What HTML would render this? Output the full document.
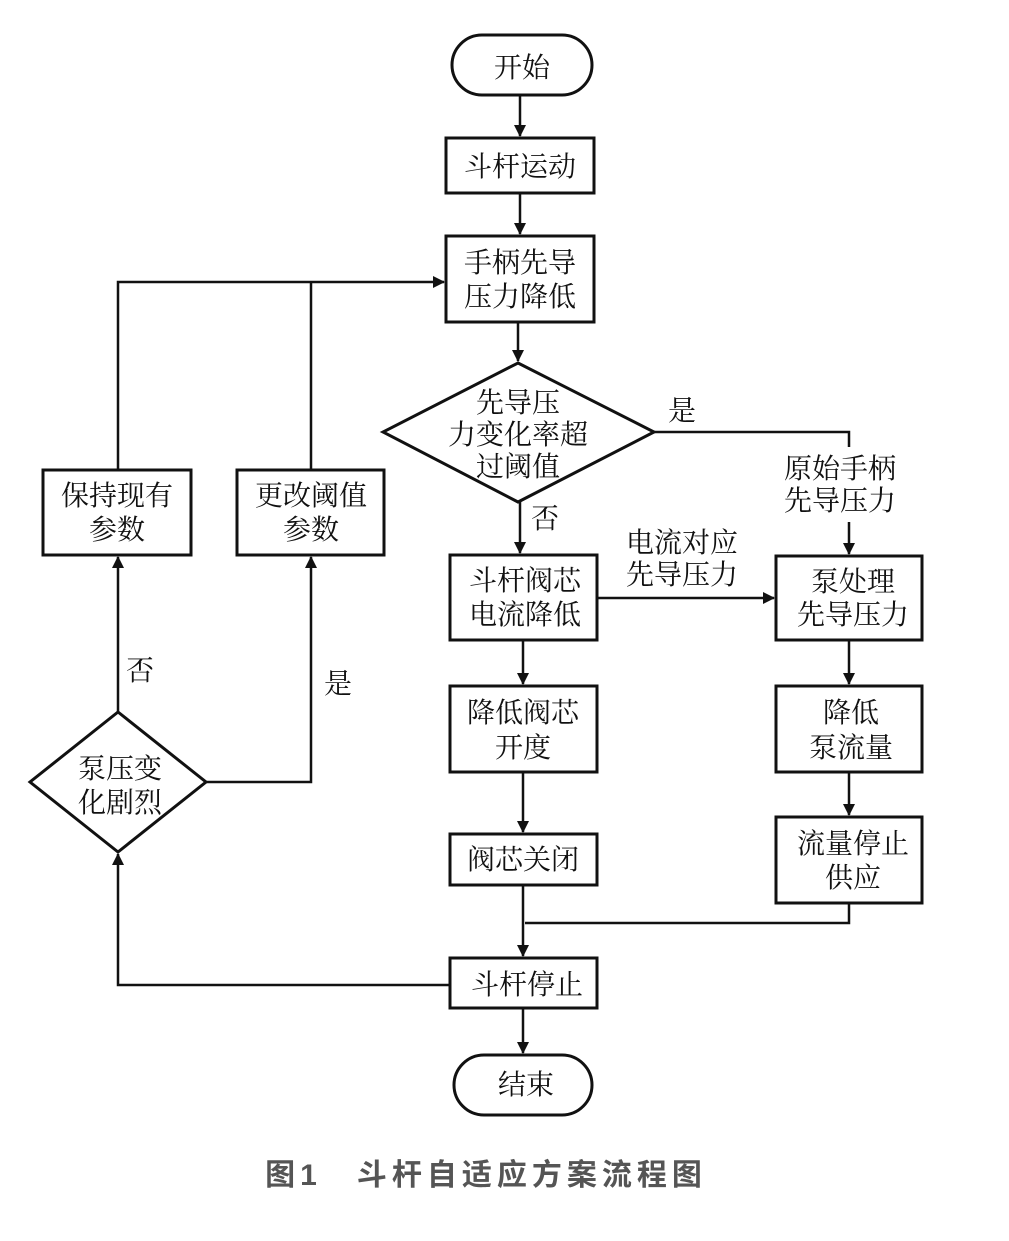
<!DOCTYPE html>
<html><head><meta charset="utf-8"><style>
html,body{margin:0;padding:0;background:#fff;}
svg text{font-family:"Noto Serif CJK SC","Noto Serif CJK JP","Liberation Serif",serif;font-size:28px;fill:#111;text-anchor:middle;}
</style></head><body>
<svg width="1009" height="1236" viewBox="0 0 1009 1236" xmlns="http://www.w3.org/2000/svg">
<defs>
<marker id="b" markerWidth="12" markerHeight="22" refX="11" refY="6" orient="auto" markerUnits="userSpaceOnUse" viewBox="0 0 12 12"><path d="M0,0 L12,6 L0,12 z" fill="#111"/></marker></defs>
<g fill="none" stroke="#111" stroke-width="3">
<rect x="452" y="35" width="140" height="60" rx="30"/>
<rect x="446" y="138" width="148" height="55"/>
<rect x="446" y="236" width="148" height="86"/>
<polygon points="518,363 654,432 518,502 383,432"/>
<rect x="450" y="555" width="147" height="85"/>
<rect x="776" y="556" width="146" height="84"/>
<rect x="450" y="686" width="147" height="86"/>
<rect x="776" y="686" width="146" height="86"/>
<rect x="450" y="834" width="147" height="51"/>
<rect x="776" y="817" width="146" height="86"/>
<rect x="450" y="958" width="147" height="50"/>
<rect x="454" y="1055" width="138" height="60" rx="30"/>
<rect x="43" y="470" width="148" height="85"/>
<rect x="237" y="470" width="147" height="85"/>
<polygon points="118,712 206,782 118,852 30,782"/>
</g>
<g fill="none" stroke="#111" stroke-width="2.5">
<line x1="520" y1="95" x2="520" y2="136" marker-end="url(#b)"/>
<line x1="520" y1="193" x2="520" y2="234" marker-end="url(#b)"/>
<line x1="518" y1="322" x2="518" y2="361" marker-end="url(#b)"/>
<line x1="520" y1="502" x2="520" y2="553" marker-end="url(#b)"/>
<polyline points="654,432 849,432 849,554" marker-end="url(#b)"/>
<line x1="597" y1="598" x2="774" y2="598" marker-end="url(#b)"/>
<line x1="523" y1="640" x2="523" y2="684" marker-end="url(#b)"/>
<line x1="849" y1="640" x2="849" y2="684" marker-end="url(#b)"/>
<line x1="523" y1="772" x2="523" y2="832" marker-end="url(#b)"/>
<line x1="849" y1="772" x2="849" y2="815" marker-end="url(#b)"/>
<polyline points="849,903 849,923 525,923"/>
<line x1="523" y1="885" x2="523" y2="956" marker-end="url(#b)"/>
<line x1="523" y1="1008" x2="523" y2="1053" marker-end="url(#b)"/>
<polyline points="450,985 118,985 118,854" marker-end="url(#b)"/>
<line x1="118" y1="712" x2="118" y2="557" marker-end="url(#b)"/>
<polyline points="206,782 311,782 311,557" marker-end="url(#b)"/>
<polyline points="118,470 118,282 444,282" marker-end="url(#b)"/>
<line x1="311" y1="470" x2="311" y2="282"/>
</g>
<rect x="774" y="447" width="134" height="75" fill="#fff"/>
<text x="522" y="77">开始</text>
<text x="520" y="176">斗杆运动</text>
<text x="520" y="272">手柄先导</text>
<text x="520" y="306">压力降低</text>
<text x="518" y="412">先导压</text>
<text x="518" y="444">力变化率超</text>
<text x="518" y="476">过阈值</text>
<text x="682" y="420">是</text>
<text x="545" y="528">否</text>
<text x="840" y="478">原始手柄</text>
<text x="840" y="510">先导压力</text>
<text x="682" y="552">电流对应</text>
<text x="682" y="584">先导压力</text>
<text x="525" y="590">斗杆阀芯</text>
<text x="525" y="624">电流降低</text>
<text x="853" y="591">泵处理</text>
<text x="853" y="624">先导压力</text>
<text x="523" y="722">降低阀芯</text>
<text x="523" y="757">开度</text>
<text x="851" y="722">降低</text>
<text x="851" y="757">泵流量</text>
<text x="523" y="869">阀芯关闭</text>
<text x="853" y="853">流量停止</text>
<text x="853" y="887">供应</text>
<text x="527" y="994">斗杆停止</text>
<text x="526" y="1094">结束</text>
<text x="117" y="505">保持现有</text>
<text x="117" y="539">参数</text>
<text x="311" y="505">更改阈值</text>
<text x="311" y="539">参数</text>
<text x="120" y="778">泵压变</text>
<text x="120" y="812">化剧烈</text>
<text x="140" y="680">否</text>
<text x="338" y="693">是</text>
<text x="486" y="1185" style="font-family:'Liberation Sans','Noto Sans CJK SC',sans-serif;font-weight:bold;font-size:30px;fill:#555;letter-spacing:5px">图1　斗杆自适应方案流程图</text>
</svg>
</body></html>
